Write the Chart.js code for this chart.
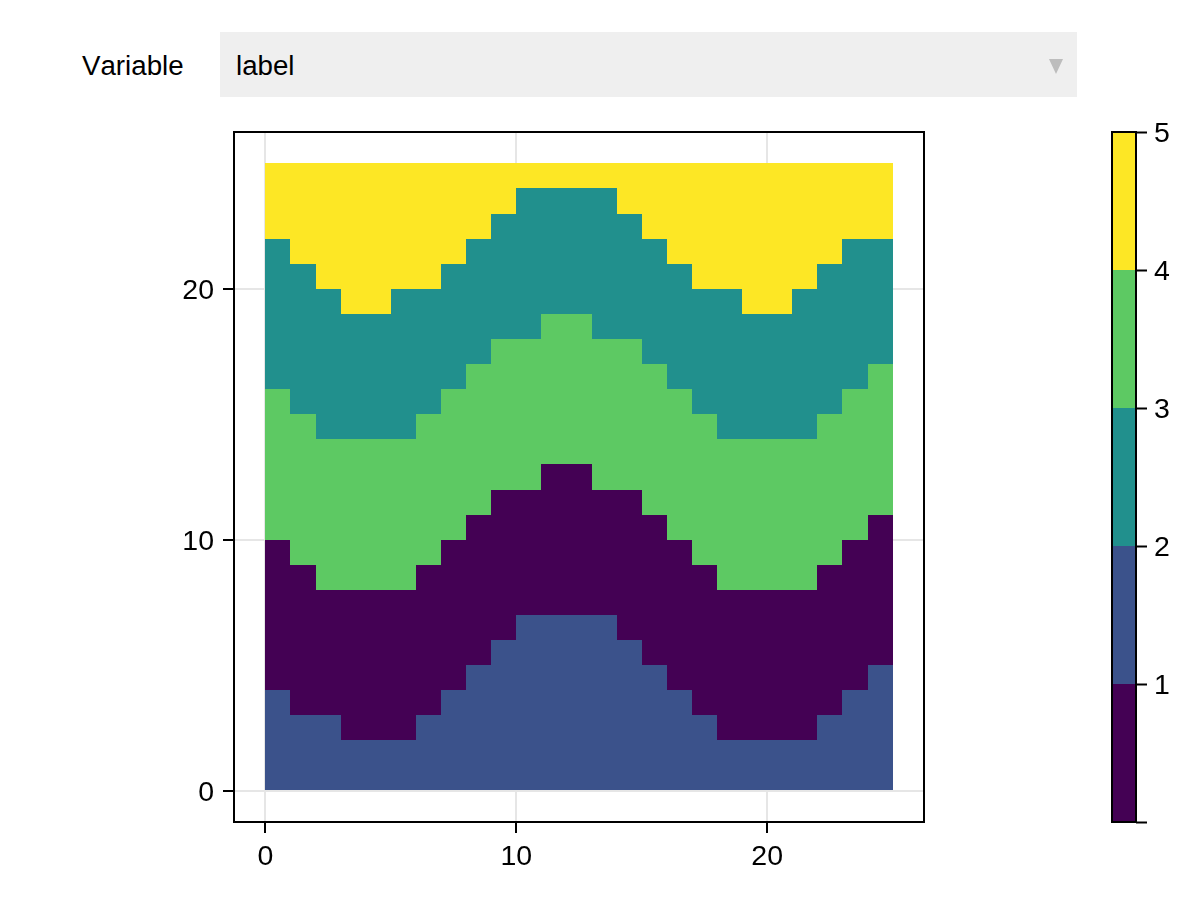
<!DOCTYPE html>
<html>
<head>
<meta charset="utf-8">
<script src="https://cdn.jsdelivr.net/npm/chart.js@4"></script>
<style>
html,body{margin:0;padding:0;background:#fff;width:1200px;height:900px;overflow:hidden;font-family:"Liberation Sans",Arial,sans-serif;font-kerning:none;}
canvas{position:absolute;left:0;top:0;}
#varLabel{position:absolute;left:82px;top:32px;height:65px;line-height:67px;font-size:27.7px;color:#000;}
#menu{position:absolute;left:220px;top:32px;width:857px;height:65px;background:#efefef;}
#menuText{position:absolute;left:16px;top:0;line-height:67px;font-size:27.7px;color:#000;}
#menuArrow{position:absolute;left:829px;top:27px;width:0;height:0;border-left:7px solid transparent;border-right:7px solid transparent;border-top:15px solid #bdbdbd;}
</style>
</head>
<body>
<div id="varLabel">Variable</div>
<div id="menu"><span id="menuText">label</span><div id="menuArrow"></div></div>
<canvas id="main" width="1200" height="900"></canvas>
<canvas id="bar" width="1200" height="900"></canvas>
<script>
const columnCenters = [0.5,1.5,2.5,3.5,4.5,5.5,6.5,7.5,8.5,9.5,10.5,11.5,12.5,13.5,14.5,15.5,16.5,17.5,18.5,19.5,20.5,21.5,22.5,23.5,24.5];
const blueTop   = [4,3,3,2,2,2,3,4,5,6,7,7,7,7,6,5,4,3,2,2,2,2,3,4,5];
const purpleTop = [10,9,8,8,8,8,9,10,11,12,12,13,13,12,12,11,10,9,8,8,8,8,9,10,11];
const greenTop  = [16,15,14,14,14,14,15,16,17,18,18,19,19,18,18,17,16,15,14,14,14,14,15,16,17];
const tealTop   = [22,21,20,19,19,20,20,21,22,23,24,24,24,24,23,22,21,20,20,19,19,20,21,22,22];
const yellowTop = [25,25,25,25,25,25,25,25,25,25,25,25,25,25,25,25,25,25,25,25,25,25,25,25,25];
const axisTicks = [0,10,20];
const axisMin = -1.25, axisMax = 26.25;
const colorbarTicks = [0,1,2,3,4,5];
const colorbarTops = [1,2,3,4,5];
const colorbarLabels = ['label'];
const PURPLE='#440154', BLUE='#3b528b', TEAL='#21908d', GREEN='#5dc963', YELLOW='#fde725';
const colorbarColors = [PURPLE,BLUE,TEAL,GREEN,YELLOW];
const FONT = {family:'"Liberation Sans", Arial, sans-serif', size:28.5};

const pts = arr => arr.map((v,i)=>({x:columnCenters[i], y:v}));
const band = (arr,color) => ({data:pts(arr), backgroundColor:color, borderWidth:0, inflateAmount:0, barPercentage:1, categoryPercentage:1, grouped:false});

const frame = {
  id:'frame',
  afterDraw(c){
    const a=c.chartArea, g=c.ctx;
    g.save(); g.strokeStyle='#000'; g.lineWidth=2;
    g.strokeRect(a.left,a.top,a.right-a.left,a.bottom-a.top);
    g.restore();
  }
};

/* snap the bars the scales have placed onto whole pixels, so neighbours leave no seam */
const snapBars = {
  id:'snapBars',
  beforeDatasetsDraw(c){
    c.getSortedVisibleDatasetMetas().forEach(m=>m.data.forEach(el=>{
      const l=Math.round(el.x-el.width/2), r=Math.round(el.x+el.width/2);
      el.x=(l+r)/2; el.width=r-l; el.y=Math.round(el.y); el.base=Math.round(el.base);
    }));
  }
};

/* small nudge of the tick labels the axes have laid out */
const nudgeLabels = {
  id:'nudgeLabels',
  beforeDraw(c,args,opts){
    Object.values(c.scales).forEach(s=>{
      if(!s.options.display) return;
      const dy = s.isHorizontal()?opts.dx:opts.dy;
      s.getLabelItems(c.chartArea).forEach(it=>{ it.options.translation[1]+=dy; });
    });
  }
};

const axisCommon = {
  type:'linear', min:axisMin, max:axisMax, offset:false,
  afterBuildTicks(s){ s.ticks = axisTicks.map(v=>({value:v})); },
  grid:{offset:false, color:'#e6e6e6', lineWidth:2, tickColor:'#000', tickLength:11, tickWidth:2, drawTicks:true},
  border:{display:false}
};

new Chart(document.getElementById('main'),{
  type:'bar',
  data:{datasets:[band(blueTop,BLUE),band(purpleTop,PURPLE),band(greenTop,GREEN),band(tealTop,TEAL),band(yellowTop,YELLOW)]},
  plugins:[snapBars,nudgeLabels,frame],
  options:{
    responsive:false, animation:false, devicePixelRatio:1,
    layout:{padding:{left:0,top:132,right:276,bottom:0}},
    plugins:{legend:{display:false},tooltip:{enabled:false},title:{display:false},nudgeLabels:{dx:1.5,dy:2.5}},
    scales:{
      x:{...axisCommon, position:'bottom',
         ticks:{font:FONT,color:'#000',padding:6,maxRotation:0,autoSkip:false},
         afterFit(s){s.height=78;}},
      y:{...axisCommon, position:'left',
         ticks:{font:FONT,color:'#000',padding:9,autoSkip:false},
         afterFit(s){s.width=234;}}
    }
  }
});

new Chart(document.getElementById('bar'),{
  type:'bar',
  data:{labels:colorbarLabels,
    datasets:colorbarTops.map((v,i)=>({data:[v],backgroundColor:colorbarColors[i],borderWidth:0,inflateAmount:0,barPercentage:1,categoryPercentage:1,grouped:false}))},
  plugins:[snapBars,nudgeLabels,frame],
  options:{
    responsive:false, animation:false, devicePixelRatio:1,
    layout:{padding:{left:1112,top:132,right:0,bottom:78}},
    plugins:{legend:{display:false},tooltip:{enabled:false},title:{display:false},nudgeLabels:{dx:0,dy:2.5}},
    scales:{
      x:{display:false},
      y:{type:'linear',position:'right',min:0,max:5,
         afterBuildTicks(s){ s.ticks = colorbarTicks.map(v=>({value:v})); },
         afterFit(s){s.width=64;},
         grid:{drawOnChartArea:false,drawTicks:true,tickColor:'#000',tickLength:11,tickWidth:2},
         border:{display:false},
         ticks:{font:FONT,color:'#000',padding:7,autoSkip:false,
           callback:v=>v===0?'':String(v)}}
    }
  }
});
</script>
</body>
</html>
